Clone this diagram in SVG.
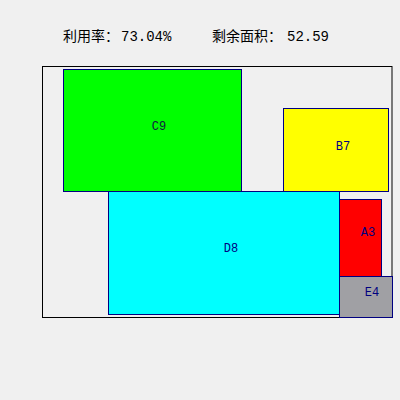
<svg xmlns="http://www.w3.org/2000/svg" width="400" height="400" viewBox="0 0 400 400">
<style>
.box{stroke:#000080;stroke-width:1}
.lbl{font-family:"Liberation Mono","Noto Sans CJK SC",monospace;font-size:12px;fill:#000080;text-anchor:middle}
.ttl{font-family:"Liberation Mono","Noto Sans CJK SC",monospace;font-size:14px;fill:#000}
</style>
<rect x="0" y="0" width="400" height="400" fill="#f0f0f0"/>
<text class="ttl" x="63" y="41">利用率：<tspan x="121">73.04%</tspan></text>
<text class="ttl" x="212" y="41">剩余面积：<tspan x="287">52.59</tspan></text>
<rect x="42.5" y="66.5" width="349.5" height="251" fill="none" stroke="#000" stroke-width="1"/>
<g id="C9"><rect class="box" x="63.5" y="69.5" width="178" height="122" fill="#00ff00"/><text class="lbl" x="159" y="130" style="fill:#102040">C9</text></g>
<g id="B7"><rect class="box" x="283.5" y="108.5" width="105" height="83" fill="#ffff00"/><text class="lbl" x="343" y="150">B7</text></g>
<g id="D8"><rect class="box" x="108.5" y="191.5" width="231" height="123" fill="#00ffff"/><text class="lbl" x="231" y="252">D8</text></g>
<g id="A3"><rect class="box" x="339.5" y="199.5" width="42" height="77" fill="#ff0000"/><text class="lbl" x="368" y="236">A3</text></g>
<g id="E4"><rect class="box" x="339.5" y="276.5" width="53" height="41" fill="#a0a0a4"/><text class="lbl" x="372" y="296">E4</text></g>
<g id="connectors"></g>
</svg>
